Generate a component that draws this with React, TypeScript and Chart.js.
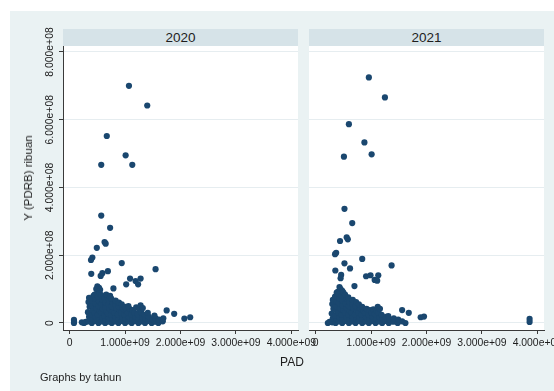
import React, { useEffect, useRef } from "react";
import { Chart, registerables } from "chart.js";
Chart.register(...registerables);

const years = ["2020", "2021"];
const xTickValues = [0, 1e9, 2e9, 3e9, 4e9];
const xTickLabels = ["0", "1.000e+09", "2.000e+09", "3.000e+09", "4.000e+09"];
const yTickValues = [0, 2e8, 4e8, 6e8, 8e8];
const yTickLabels = ["0", "2.000e+08", "4.000e+08", "6.000e+08", "8.000e+08"];
const xRange = [-1.2e8, 4.12e9];
const yRange = [-2.07e7, 8.177e8];
const xTitle = "PAD";
const yTitle = "Y (PDRB) ribuan";
const note = "Graphs by tahun";

type Pt = [number, number];

const points2020: Pt[] = [
  [1.07e9, 7.0e8], [1.4e9, 6.42e8], [0.67e9, 5.52e8], [1.01e9, 4.95e8], [0.57e9, 4.67e8], [1.13e9, 4.67e8],
  [0.57e9, 3.17e8], [0.73e9, 2.81e8], [0.63e9, 2.39e8], [0.65e9, 2.34e8], [0.49e9, 2.22e8], [0.41e9, 1.93e8],
  [0.385e9, 1.86e8], [0.94e9, 1.77e8], [1.55e9, 1.59e8], [0.39e9, 1.45e8], [0.59e9, 1.47e8], [0.56e9, 1.39e8],
  [0.69e9, 1.53e8], [1.09e9, 1.31e8], [1.19e9, 1.24e8], [1.28e9, 1.31e8], [1.235e9, 1.14e8], [1.02e9, 1.14e8],
  [0.79e9, 1.02e8], [0.5e9, 1.08e8], [0.53e9, 1.04e8], [0.48e9, 1.0e8], [0.55e9, 0.98e8], [0.51e9, 0.92e8],
  [2.07e9, 0.13e8], [2.175e9, 0.17e8], [1.75e9, 0.37e8], [1.886e9, 0.27e8],
  [0.078e9, 0.09e8], [0.078e9, 0.0], [0.08e9, 0.04e8],
  [0.22e9, 0.02e8], [0.26e9, 0.0], [0.29e9, 0.03e8],
  [0.34e9, 0.05e8], [0.35e9, 0.18e8], [0.33e9, 0.32e8], [0.36e9, 0.48e8], [0.34e9, 0.62e8], [0.35e9, 0.74e8],
  [0.4e9, 0.0], [0.41e9, 0.12e8], [0.39e9, 0.25e8], [0.42e9, 0.38e8], [0.4e9, 0.52e8], [0.41e9, 0.66e8], [0.43e9, 0.8e8],
  [0.46e9, 0.06e8], [0.47e9, 0.18e8], [0.45e9, 0.3e8], [0.48e9, 0.44e8], [0.46e9, 0.58e8], [0.47e9, 0.72e8], [0.45e9, 0.84e8],
  [0.52e9, 0.0], [0.53e9, 0.12e8], [0.51e9, 0.24e8], [0.54e9, 0.36e8], [0.52e9, 0.5e8], [0.53e9, 0.64e8], [0.51e9, 0.78e8], [0.54e9, 0.88e8],
  [0.58e9, 0.05e8], [0.59e9, 0.17e8], [0.57e9, 0.3e8], [0.6e9, 0.42e8], [0.58e9, 0.56e8], [0.59e9, 0.7e8], [0.57e9, 0.82e8],
  [0.64e9, 0.0], [0.65e9, 0.1e8], [0.63e9, 0.22e8], [0.66e9, 0.35e8], [0.64e9, 0.48e8], [0.65e9, 0.6e8], [0.63e9, 0.74e8], [0.66e9, 0.84e8],
  [0.7e9, 0.04e8], [0.71e9, 0.16e8], [0.69e9, 0.28e8], [0.72e9, 0.42e8], [0.7e9, 0.56e8], [0.71e9, 0.68e8], [0.73e9, 0.8e8],
  [0.76e9, 0.0], [0.77e9, 0.12e8], [0.75e9, 0.24e8], [0.78e9, 0.36e8], [0.76e9, 0.5e8], [0.77e9, 0.62e8], [0.75e9, 0.72e8],
  [0.82e9, 0.05e8], [0.83e9, 0.18e8], [0.81e9, 0.3e8], [0.84e9, 0.44e8], [0.82e9, 0.56e8], [0.83e9, 0.66e8],
  [0.88e9, 0.0], [0.89e9, 0.12e8], [0.87e9, 0.25e8], [0.9e9, 0.38e8], [0.88e9, 0.5e8], [0.89e9, 0.6e8],
  [0.94e9, 0.06e8], [0.95e9, 0.18e8], [0.93e9, 0.3e8], [0.96e9, 0.44e8], [0.94e9, 0.55e8],
  [1.0e9, 0.0], [1.01e9, 0.12e8], [0.99e9, 0.24e8], [1.02e9, 0.36e8], [1.0e9, 0.48e8],
  [1.06e9, 0.05e8], [1.07e9, 0.17e8], [1.05e9, 0.3e8], [1.08e9, 0.42e8], [1.06e9, 0.5e8],
  [1.12e9, 0.0], [1.13e9, 0.12e8], [1.11e9, 0.25e8], [1.14e9, 0.38e8],
  [1.18e9, 0.06e8], [1.19e9, 0.18e8], [1.17e9, 0.3e8], [1.2e9, 0.46e8],
  [1.24e9, 0.0], [1.25e9, 0.12e8], [1.23e9, 0.26e8], [1.26e9, 0.4e8], [1.28e9, 0.52e8],
  [1.3e9, 0.05e8], [1.31e9, 0.18e8], [1.29e9, 0.32e8], [1.32e9, 0.44e8],
  [1.36e9, 0.0], [1.37e9, 0.12e8], [1.35e9, 0.24e8],
  [1.42e9, 0.06e8], [1.43e9, 0.18e8], [1.41e9, 0.3e8],
  [1.48e9, 0.0], [1.49e9, 0.1e8],
  [1.54e9, 0.04e8], [1.55e9, 0.14e8], [1.53e9, 0.22e8],
  [1.6e9, 0.0], [1.61e9, 0.1e8],
  [1.68e9, 0.05e8], [1.69e9, 0.14e8],
];

const points2021: Pt[] = [
  [0.96e9, 7.25e8], [1.25e9, 6.66e8], [0.6e9, 5.87e8], [0.88e9, 5.33e8], [0.51e9, 4.91e8], [1.01e9, 4.98e8],
  [0.52e9, 3.37e8], [0.66e9, 2.95e8], [0.56e9, 2.53e8], [0.58e9, 2.47e8], [0.44e9, 2.42e8], [0.37e9, 2.07e8],
  [0.35e9, 2.03e8], [0.84e9, 1.89e8], [1.37e9, 1.7e8], [0.52e9, 1.76e8], [0.62e9, 1.61e8], [0.355e9, 1.55e8],
  [0.46e9, 1.42e8], [0.45e9, 1.32e8], [0.91e9, 1.38e8], [0.99e9, 1.41e8], [1.065e9, 1.27e8], [1.13e9, 1.41e8],
  [1.11e9, 1.25e8], [0.43e9, 1.06e8], [0.45e9, 1.0e8], [0.7e9, 1.09e8], [0.48e9, 0.95e8], [0.4e9, 0.92e8],
  [1.895e9, 0.17e8], [1.955e9, 0.19e8], [1.56e9, 0.38e8], [1.68e9, 0.3e8], [3.86e9, 0.12e8], [3.86e9, 0.03e8],
  [0.22e9, 0.0], [0.25e9, 0.03e8],
  [0.3e9, 0.02e8], [0.31e9, 0.14e8], [0.29e9, 0.28e8], [0.32e9, 0.42e8], [0.3e9, 0.56e8], [0.31e9, 0.68e8],
  [0.36e9, 0.0], [0.37e9, 0.1e8], [0.35e9, 0.22e8], [0.38e9, 0.36e8], [0.36e9, 0.5e8], [0.37e9, 0.64e8], [0.35e9, 0.78e8], [0.38e9, 0.9e8],
  [0.42e9, 0.05e8], [0.43e9, 0.17e8], [0.41e9, 0.3e8], [0.44e9, 0.44e8], [0.42e9, 0.58e8], [0.43e9, 0.72e8], [0.41e9, 0.86e8],
  [0.48e9, 0.0], [0.49e9, 0.12e8], [0.47e9, 0.24e8], [0.5e9, 0.38e8], [0.48e9, 0.52e8], [0.49e9, 0.66e8], [0.47e9, 0.8e8], [0.5e9, 0.9e8],
  [0.54e9, 0.06e8], [0.55e9, 0.18e8], [0.53e9, 0.3e8], [0.56e9, 0.44e8], [0.54e9, 0.58e8], [0.55e9, 0.72e8], [0.53e9, 0.84e8],
  [0.6e9, 0.0], [0.61e9, 0.12e8], [0.59e9, 0.24e8], [0.62e9, 0.36e8], [0.6e9, 0.5e8], [0.61e9, 0.62e8], [0.59e9, 0.76e8],
  [0.66e9, 0.05e8], [0.67e9, 0.17e8], [0.65e9, 0.3e8], [0.68e9, 0.44e8], [0.66e9, 0.56e8], [0.67e9, 0.68e8],
  [0.72e9, 0.0], [0.73e9, 0.12e8], [0.71e9, 0.25e8], [0.74e9, 0.38e8], [0.72e9, 0.5e8], [0.73e9, 0.62e8],
  [0.78e9, 0.06e8], [0.79e9, 0.18e8], [0.77e9, 0.3e8], [0.8e9, 0.44e8], [0.78e9, 0.55e8],
  [0.84e9, 0.0], [0.85e9, 0.12e8], [0.83e9, 0.24e8], [0.86e9, 0.36e8], [0.84e9, 0.48e8],
  [0.9e9, 0.05e8], [0.91e9, 0.17e8], [0.89e9, 0.3e8], [0.92e9, 0.42e8],
  [0.96e9, 0.0], [0.97e9, 0.12e8], [0.95e9, 0.25e8], [0.98e9, 0.38e8],
  [1.02e9, 0.06e8], [1.03e9, 0.18e8], [1.01e9, 0.3e8], [1.04e9, 0.4e8],
  [1.08e9, 0.0], [1.09e9, 0.12e8], [1.07e9, 0.26e8], [1.1e9, 0.36e8], [1.12e9, 0.48e8],
  [1.14e9, 0.05e8], [1.15e9, 0.18e8], [1.13e9, 0.3e8], [1.16e9, 0.42e8],
  [1.2e9, 0.0], [1.21e9, 0.12e8], [1.19e9, 0.24e8],
  [1.26e9, 0.06e8], [1.27e9, 0.18e8],
  [1.32e9, 0.0], [1.33e9, 0.1e8], [1.31e9, 0.2e8],
  [1.4e9, 0.04e8], [1.41e9, 0.14e8],
  [1.48e9, 0.0], [1.49e9, 0.1e8],
  [1.56e9, 0.05e8],
  [1.62e9, 0.0],
];

const FONT = "'Liberation Sans', Arial, Helvetica, sans-serif";
const NAVY = "rgb(26,71,111)";
const BG = "rgb(234,242,243)";
const STRIP = "rgb(214,227,232)";
const GRID = "rgb(230,237,240)";
const AXIS = "#3a3a3a";
const TEXT = "#1e1e1e";

const bgPlugin = {
  id: "plotBg",
  beforeDraw(chart: any) {
    const { ctx, chartArea } = chart;
    ctx.save();
    ctx.fillStyle = "#ffffff";
    ctx.fillRect(chartArea.left, chartArea.top, chartArea.right - chartArea.left, chartArea.bottom - chartArea.top);
    ctx.restore();
  },
};

const yLabelPlugin = {
  id: "yRotLabels",
  afterDraw(chart: any) {
    const s = chart.scales.y;
    const ctx = chart.ctx;
    ctx.save();
    ctx.font = `10.4px ${FONT}`;
    ctx.fillStyle = TEXT;
    ctx.textAlign = "center";
    ctx.textBaseline = "middle";
    yTickValues.forEach((v, i) => {
      const y = s.getPixelForValue(v);
      ctx.save();
      ctx.translate(chart.chartArea.left - 13, y);
      ctx.rotate(-Math.PI / 2);
      ctx.fillText(yTickLabels[i], 0, 0);
      ctx.restore();
    });
    ctx.restore();
  },
};

type PanelProps = {
  points: Pt[];
  showY: boolean;
  left: number;
  top: number;
  width: number;
  height: number;
  pad: { left: number; right: number; top: number; bottom: number };
};

function Panel({ points, showY, left, top, width, height, pad }: PanelProps) {
  const ref = useRef<HTMLCanvasElement>(null);
  useEffect(() => {
    if (!ref.current) return;
    const chart = new Chart(ref.current, {
      type: "scatter",
      data: {
        datasets: [
          {
            data: points.map(([x, y]) => ({ x, y })),
            backgroundColor: NAVY,
            borderColor: NAVY,
            borderWidth: 0,
            pointRadius: 3.1,
            pointHoverRadius: 3.1,
          },
        ],
      },
      options: {
        animation: false,
        responsive: false,
        events: [],
        layout: { padding: pad },
        plugins: { legend: { display: false }, tooltip: { enabled: false } },
        scales: {
          x: {
            type: "linear",
            min: xRange[0],
            max: xRange[1],
            bounds: "data",
            afterBuildTicks: (s: any) => {
              s.ticks = xTickValues.map((v) => ({ value: v }));
            },
            afterFit: (s: any) => {
              s.height = 28;
            },
            ticks: {
              autoSkip: false,
              maxRotation: 0,
              minRotation: 0,
              padding: 3,
              color: TEXT,
              font: { family: FONT, size: 10.4 },
              callback: (v: any) => {
                const i = xTickValues.indexOf(Number(v));
                return i >= 0 ? xTickLabels[i] : "";
              },
            },
            grid: { drawOnChartArea: false, drawTicks: true, tickLength: 4, tickColor: AXIS, tickWidth: 1 },
            border: { display: true, color: AXIS, width: 1 },
          },
          y: {
            type: "linear",
            min: yRange[0],
            max: yRange[1],
            bounds: "data",
            afterBuildTicks: (s: any) => {
              s.ticks = yTickValues.map((v) => ({ value: v }));
            },
            afterFit: (s: any) => {
              s.width = showY ? 53 : 0;
            },
            ticks: { display: false },
            grid: { color: GRID, lineWidth: 1, drawTicks: showY, tickLength: 4, tickColor: AXIS, tickWidth: 1 },
            border: { display: showY, color: AXIS, width: 1 },
          },
        },
      } as any,
      plugins: showY ? [bgPlugin, yLabelPlugin] : [bgPlugin],
    });
    return () => chart.destroy();
  }, []);
  return (
    <canvas
      ref={ref}
      width={width}
      height={height}
      style={{ position: "absolute", left, top, width, height }}
    />
  );
}

const stripStyle = (left: number): React.CSSProperties => ({
  position: "absolute",
  left,
  top: 29,
  width: 235,
  height: 17,
  background: STRIP,
  color: TEXT,
  fontFamily: FONT,
  fontSize: 13.5,
  lineHeight: "17px",
  textAlign: "center",
});

export default function App() {
  return (
    <div
      style={{
        position: "fixed",
        left: 0,
        top: 0,
        width: 554,
        height: 391,
        overflow: "hidden",
        background: "#ffffff",
      }}
    >
      <div style={{ position: "absolute", left: 10, top: 11, right: 0, bottom: 0, background: BG }} />
      <div style={stripStyle(63)}>{years[0]}</div>
      <div style={stripStyle(309)}>{years[1]}</div>
      <Panel
        points={points2020}
        showY={true}
        left={10}
        top={11}
        width={320}
        height={347}
        pad={{ left: 0, right: 32, top: 35, bottom: 0 }}
      />
      <Panel
        points={points2021}
        showY={false}
        left={299}
        top={11}
        width={285}
        height={347}
        pad={{ left: 10, right: 40, top: 35, bottom: 0 }}
      />
      <div
        style={{
          position: "absolute",
          left: 27.5,
          top: 178,
          transform: "translate(-50%, -50%) rotate(-90deg)",
          whiteSpace: "nowrap",
          fontFamily: FONT,
          fontSize: 11.5,
          color: TEXT,
        }}
      >
        {yTitle}
      </div>
      <div
        style={{
          position: "absolute",
          left: 292,
          top: 362,
          transform: "translate(-50%, -50%)",
          whiteSpace: "nowrap",
          fontFamily: FONT,
          fontSize: 12,
          color: TEXT,
        }}
      >
        {xTitle}
      </div>
      <div
        style={{
          position: "absolute",
          left: 40,
          top: 377,
          transform: "translate(0, -50%)",
          whiteSpace: "nowrap",
          fontFamily: FONT,
          fontSize: 11,
          color: TEXT,
        }}
      >
        {note}
      </div>
    </div>
  );
}
